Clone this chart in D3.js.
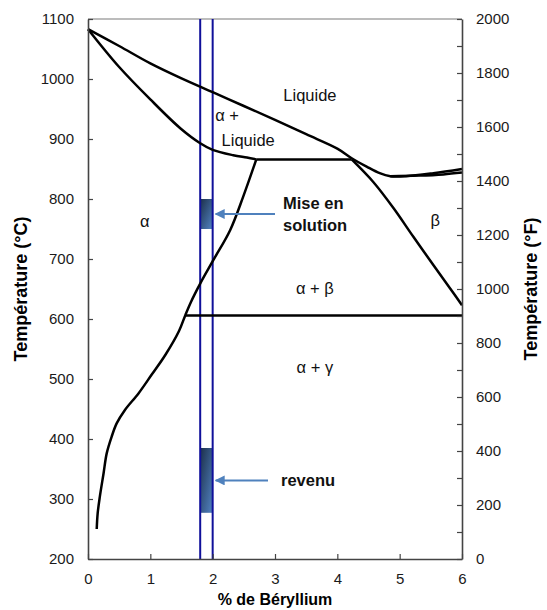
<!DOCTYPE html>
<html>
<head>
<meta charset="utf-8">
<script src="https://cdn.jsdelivr.net/npm/d3@7"></script>
<style>
  body { margin: 0; background: #fff; }
  svg { display: block; font-family: Arial, "Liberation Sans", sans-serif; }
</style>
</head>
<body>
<div id="chart"></div>
<script>
// phase boundaries, [% Be, °C]
const liquidus = [[0,1083],[0.5,1055],[1.0,1026],[1.5,1001],[2.0,978],[2.5,955],[3.0,932],[3.5,908],[4.0,884],[4.23,868],[4.47,854],[4.68,843],[4.85,838],[5.1,838],[5.54,843],[6.0,850]];
const liquidus2 = [[4.85,838],[5.3,839],[5.7,841],[6.0,844]];
const solidus = [[0,1083],[0.5,1020],[1.0,966],[1.48,918],[1.8,893],[2.0,882],[2.33,873],[2.55,869],[2.7,866]];
const peritectic = [[2.7,866],[4.23,866]];
const betaSolvus = [[4.23,866],[4.58,828],[4.9,785],[5.22,737],[5.54,690],[5.81,651],[6.0,623]];
const alphaSolvus = [[2.7,866],[2.49,804],[2.28,748],[2.01,698],[1.8,659],[1.65,628],[1.56,606],[1.46,580],[1.24,540],[1.02,507],[0.81,476],[0.59,448],[0.46,426],[0.38,404],[0.30,376],[0.25,343],[0.19,304],[0.155,276],[0.14,250]];
const eutectoid = [[1.56,606],[6.0,606]];

// treatment window
const alloyRange = [1.8, 2.0];
const treatments = [
  { label: ["Mise en", "solution"], tHigh: 800, tLow: 750, arrowFrom: 275 },
  { label: ["revenu"], tHigh: 385, tLow: 277, arrowFrom: 268 }
];

const regionLabels = [
  { text: "Liquide", x: 3.56, t: 973, anchor: "middle" },
  { text: "α +", x: 2.04, t: 940, anchor: "start" },
  { text: "Liquide", x: 2.57, t: 898, anchor: "middle" },
  { text: "α", x: 0.91, t: 763, anchor: "middle" },
  { text: "β", x: 5.57, t: 765, anchor: "middle" },
  { text: "α + β", x: 3.64, t: 652, anchor: "middle" },
  { text: "α + γ", x: 3.64, t: 520, anchor: "middle" }
];

const xTicks = [0,1,2,3,4,5,6];
const cTicks = [200,300,400,500,600,700,800,900,1000,1100];
const fTicks = d3.range(0, 2001, 100);

const width = 547, height = 610;
const margin = { top: 19, right: 85, bottom: 51, left: 88 };

const svg = d3.select("#chart").append("svg")
  .attr("width", width)
  .attr("height", height);

const x = d3.scaleLinear().domain([0, 6]).range([margin.left, width - margin.right]);
const y = d3.scaleLinear().domain([200, 1100]).range([height - margin.bottom, margin.top]);
const yF = d3.scaleLinear().domain([0, 2000]).range([height - margin.bottom, margin.top]);

const defs = svg.append("defs");
const grad = defs.append("linearGradient")
  .attr("id", "barGrad")
  .attr("x1", "0").attr("y1", "0").attr("x2", "1").attr("y2", "1");
grad.append("stop").attr("offset", "0%").attr("stop-color", "#1c2f4a");
grad.append("stop").attr("offset", "100%").attr("stop-color", "#5283c2");

defs.append("marker")
  .attr("id", "arrowHead")
  .attr("viewBox", "0 0 10 10")
  .attr("refX", 9).attr("refY", 5)
  .attr("markerWidth", 5).attr("markerHeight", 5)
  .attr("orient", "auto-start-reverse")
  .append("path")
  .attr("d", "M0,0 L10,5 L0,10 z")
  .attr("fill", "#4f81bd");

// top border
svg.append("line")
  .attr("x1", x(0)).attr("x2", x(6))
  .attr("y1", y(1100)).attr("y2", y(1100))
  .attr("stroke", "#7a7a7a").attr("stroke-width", 1.2);

// treatment bars
treatments.forEach(tr => {
  svg.append("rect")
    .attr("x", x(alloyRange[0]))
    .attr("y", y(tr.tHigh))
    .attr("width", x(alloyRange[1]) - x(alloyRange[0]))
    .attr("height", y(tr.tLow) - y(tr.tHigh))
    .attr("fill", "url(#barGrad)");
});

// vertical alloy lines
alloyRange.forEach(v => {
  svg.append("line")
    .attr("x1", x(v)).attr("x2", x(v))
    .attr("y1", y(1100)).attr("y2", y(200))
    .attr("stroke", "#10109a").attr("stroke-width", 2);
});

const line = d3.line()
  .x(d => x(d[0]))
  .y(d => y(d[1]))
  .curve(d3.curveCatmullRom.alpha(0.5));

[liquidus, liquidus2, solidus, peritectic, betaSolvus, alphaSolvus, eutectoid].forEach(pts => {
  svg.append("path")
    .datum(pts)
    .attr("d", line)
    .attr("fill", "none")
    .attr("stroke", "#000")
    .attr("stroke-width", 2.5)
    .attr("stroke-linejoin", "round");
});

// axes
const axisColor = "#444";
const fmt = d3.format("d");
const gLeft = svg.append("g")
  .attr("transform", `translate(${margin.left},0)`)
  .call(d3.axisLeft(y).tickValues(cTicks).tickFormat(fmt).tickSizeInner(-5).tickSizeOuter(0).tickPadding(14));
const gRight = svg.append("g")
  .attr("transform", `translate(${width - margin.right},0)`)
  .call(d3.axisRight(yF).tickValues(fTicks).tickSizeInner(-5).tickSizeOuter(0).tickPadding(14)
    .tickFormat(d => d % 200 === 0 ? fmt(d) : ""));
const gBottom = svg.append("g")
  .attr("transform", `translate(0,${height - margin.bottom})`)
  .call(d3.axisBottom(x).tickValues(xTicks).tickFormat(fmt).tickSizeInner(-5).tickSizeOuter(0).tickPadding(14));

[gLeft, gRight, gBottom].forEach(g => {
  g.select(".domain").attr("stroke", axisColor).attr("stroke-width", 1.6);
  g.selectAll(".tick line").attr("stroke", axisColor).attr("stroke-width", 1.2);
  g.selectAll(".tick text")
    .attr("fill", "#1a1a1a")
    .style("font-size", "15px")
    .style("font-family", "Arial, 'Liberation Sans', sans-serif");
});

// axis titles
svg.append("text")
  .attr("transform", `translate(27,${(margin.top + height - margin.bottom) / 2}) rotate(-90)`)
  .attr("text-anchor", "middle")
  .style("font-size", "18px").style("font-weight", "bold")
  .text("Température (°C)");

svg.append("text")
  .attr("transform", `translate(537,${(margin.top + height - margin.bottom) / 2}) rotate(-90)`)
  .attr("text-anchor", "middle")
  .style("font-size", "18px").style("font-weight", "bold")
  .text("Température (°F)");

svg.append("text")
  .attr("x", x(3)).attr("y", 605)
  .attr("text-anchor", "middle")
  .style("font-size", "16px").style("font-weight", "bold")
  .text("% de Béryllium");

// region labels
svg.selectAll(".region")
  .data(regionLabels)
  .enter().append("text")
  .attr("class", "region")
  .attr("x", d => x(d.x))
  .attr("y", d => y(d.t))
  .attr("dy", "0.35em")
  .attr("text-anchor", d => d.anchor)
  .style("font-size", "16.5px")
  .attr("fill", "#111")
  .text(d => d.text);

// treatment arrows and labels
treatments.forEach(tr => {
  const mid = (y(tr.tHigh) + y(tr.tLow)) / 2;
  const tipX = x(alloyRange[1]) + 3;
  svg.append("line")
    .attr("x1", tr.arrowFrom).attr("x2", tipX)
    .attr("y1", mid).attr("y2", mid)
    .attr("stroke", "#4f81bd").attr("stroke-width", 2)
    .attr("marker-end", "url(#arrowHead)");
  const t = svg.append("text")
    .attr("y", mid - (tr.label.length - 1) * 11)
    .style("font-size", "16.5px").style("font-weight", "bold")
    .attr("fill", "#111");
  tr.label.forEach((l, i) => {
    t.append("tspan")
      .attr("x", tr.arrowFrom + (tr.label.length > 1 ? 8 : 13))
      .attr("dy", i === 0 ? "0.35em" : "1.35em")
      .text(l);
  });
});
</script>
</body>
</html>
